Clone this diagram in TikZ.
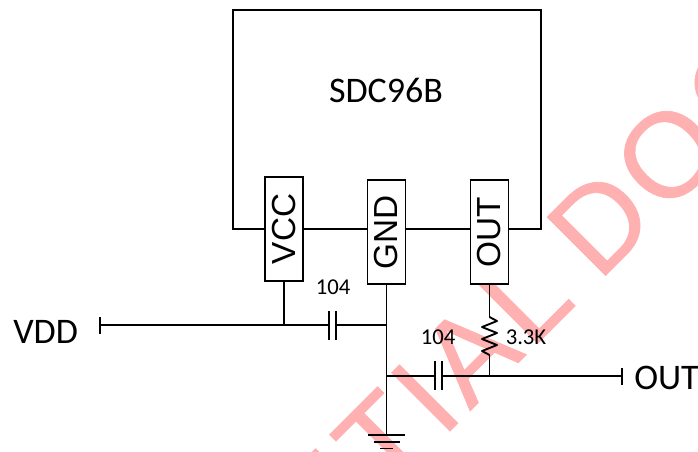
\documentclass[tikz,border=0pt]{standalone}
\usepackage{fontspec}
\setmainfont{Carlito}
\newfontfamily\wmfont[LetterSpace=5,FakeBold=0.6]{Liberation Sans}
\newfontfamily\pinfont{Liberation Sans}
\definecolor{wm}{RGB}{255,176,176}
\tikzset{x=0.75pt,y=-0.75pt,
  wire/.style={draw=black,line width=1.4pt},
  pinbox/.style={draw=black,fill=white,line width=1.4pt,minimum width=104*0.75pt,minimum height=38*0.75pt,inner sep=0pt,rotate=90,font=\pinfont\fontsize{25}{25}\selectfont},
  lab/.style={inner sep=0pt,font=\fontsize{17}{17}\selectfont},
  biglab/.style={inner sep=0pt,font=\fontsize{27}{27}\selectfont},
}
\begin{document}
\begin{tikzpicture}
\useasboundingbox (0,0) rectangle (698,451);
\clip (0,0) rectangle (698,451);
\node[text=wm,inner sep=0pt,rotate=45,anchor=base west,font=\wmfont\fontsize{90}{90}\selectfont] (wmark) at (358,523) {ITIAL\hspace{-7.5pt} DOC};
\coordinate (cnw) at (233,10);
\coordinate (cne) at (541,10);
\coordinate (cse) at (541,229);
\coordinate (csw) at (233,229);
\draw[wire,line join=miter] (csw) -- (cnw) -- (cne) -- (cse) -- cycle;
\node[biglab] (name) at (386,90) {SDC96B};
\node[pinbox] (vcc) at (284,229) {\raisebox{-2.2pt}{VCC}};
\node[pinbox] (gnd) at (386.5,232) {\raisebox{-2.2pt}{GND}};
\node[pinbox] (out) at (489.5,232) {\raisebox{-2.2pt}{OUT}};
\coordinate (vddend) at (100,325);
\coordinate (vt) at (100,317);
\coordinate (vb) at (100,334);
\coordinate (j1) at (284,325);
\coordinate (j2) at (386.5,325);
\coordinate (c1l) at (329,325);
\coordinate (c1lt) at (329,311);
\coordinate (c1lb) at (329,340);
\coordinate (c1r) at (336,325);
\coordinate (c1rt) at (336,311);
\coordinate (c1rb) at (336,340);
\coordinate (j3) at (386.5,376);
\coordinate (c2l) at (435,376);
\coordinate (c2lt) at (435,361);
\coordinate (c2lb) at (435,390);
\coordinate (c2r) at (442,376);
\coordinate (c2rt) at (442,361);
\coordinate (c2rb) at (442,390);
\coordinate (j4) at (489.5,376);
\coordinate (outend) at (622,376);
\coordinate (ot) at (622,368);
\coordinate (ob) at (622,385);
\coordinate (rtop) at (489.5,317);
\coordinate (rbot) at (489.5,355);
\coordinate (gt) at (386.5,435);
\draw[wire] (vt) -- (vb);
\draw[wire] (vddend) -- (c1l);
\draw[wire] (c1lt) -- (c1lb);
\draw[wire] (c1rt) -- (c1rb);
\draw[wire] (c1r) -- (j2);
\draw[wire] (vcc.west) -- (j1);
\draw[wire] (gnd.west) -- (gt);
\draw[wire] (j3) -- (c2l);
\draw[wire] (c2lt) -- (c2lb);
\draw[wire] (c2rt) -- (c2rb);
\draw[wire] (c2r) -- (outend);
\draw[wire] (ot) -- (ob);
\draw[wire] (out.west) -- (rtop);
\draw[wire] (rbot) -- (j4);
\draw[wire,line join=round] (rtop) -- ++(7.5,4) -- ++(-15,6) -- ++(15,6) -- ++(-15,6) -- ++(15,6) -- ++(-15,6) -- (rbot);
\draw[wire] (368,435) -- (405,435);
\draw[wire] (373.5,442) -- (399.5,442);
\draw[wire] (380,448.5) -- (393,448.5);
\node[lab] (c1v) at (333,287) {104};
\node[lab] (c2v) at (438,337) {104};
\node[lab] (rv) at (526,337) {3.3K};
\node[biglab,anchor=west] (vddl) at (13,332) {VDD};
\node[biglab,anchor=west] (outl) at (634,378) {OUT};
\end{tikzpicture}
\end{document}
